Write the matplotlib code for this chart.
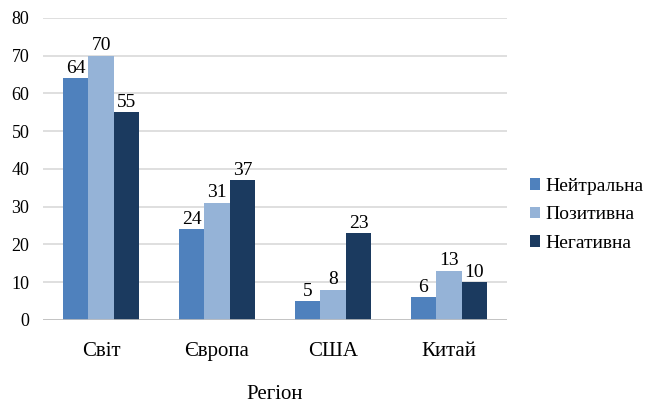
import numpy as np
import matplotlib.pyplot as plt

plt.rcParams['font.family'] = 'serif'
plt.rcParams['font.serif'] = ['Liberation Serif', 'Times New Roman', 'DejaVu Serif']

regions = ["Світ", "Європа", "США", "Китай"]
series = ["Нейтральна", "Позитивна", "Негативна"]
neutral = [64, 24, 5, 6]
positive = [70, 31, 8, 13]
negative = [55, 37, 23, 10]
colors = ["#4F81BD", "#95B3D7", "#1B3A5F"]

fig = plt.figure(figsize=(6.54, 4.07), dpi=100)
ax = fig.add_axes([0.066, 0.214, 0.709, 0.742])

x = np.arange(len(regions))
width = 0.22
for i, (name, vals) in enumerate(zip(series, [neutral, positive, negative])):
    bars = ax.bar(x + (i - 1) * width, vals, width, color=colors[i], label=name, zorder=3)
    ax.bar_label(bars, padding=1, fontsize=14)

ax.set_xlim(-0.5, len(regions) - 0.5)
ax.set_ylim(0, 80)
ax.set_yticks(range(0, 81, 10))
ax.grid(axis='y', color='#D9D9D9', linewidth=1.2, zorder=0)
for s in ax.spines.values():
    s.set_visible(False)
ax.axhline(0, color='#BFBFBF', linewidth=1.2, zorder=4)

ax.set_xticks(x)
ax.set_xticklabels(regions, fontsize=15)
ax.tick_params(axis='x', length=0, pad=16)
ax.tick_params(axis='y', length=0, pad=10, labelsize=13)
ax.set_xlabel("Регіон", fontsize=15, labelpad=17)

fig.legend(loc='center left', bbox_to_anchor=(0.81, 0.472), frameon=False,
           fontsize=14, handlelength=0.55, handleheight=0.55, handletextpad=0.25,
           labelspacing=0.6, borderaxespad=0, borderpad=0)

fig.savefig("out.png", dpi=100)
